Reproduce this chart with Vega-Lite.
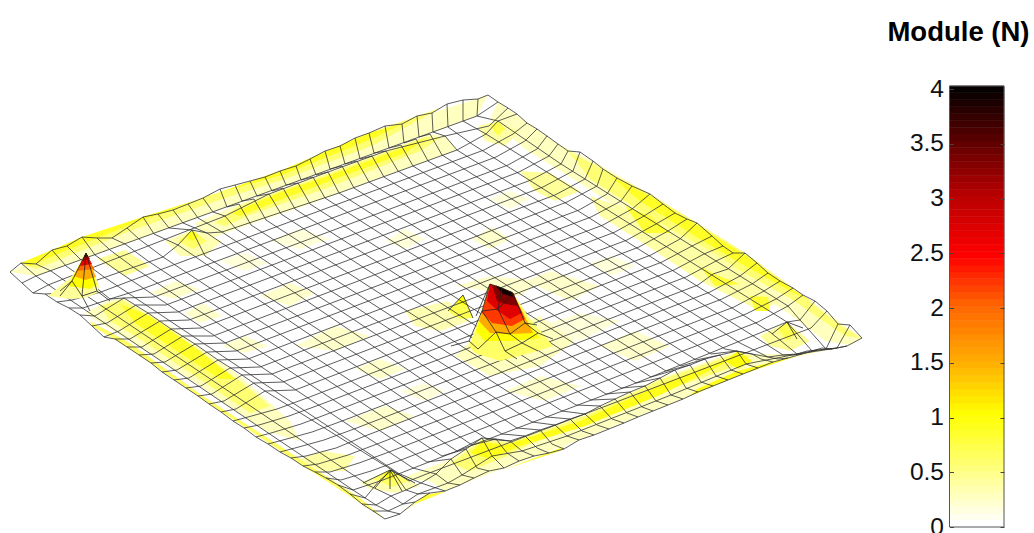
{"$schema":"https://vega.github.io/schema/vega-lite/v6.json","padding":{"left":0,"top":18,"right":30,"bottom":7},"bounds":"flush","spacing":69.5,"config":{"view":{"stroke":null}},
"datasets":{
"fills":[
{"p":1,"m":0.25,"x":10,"y":271},{"p":1,"m":0.25,"x":52,"y":249},{"p":1,"m":0.25,"x":82,"y":236},{"p":1,"m":0.25,"x":143,"y":216},{"p":1,"m":0.25,"x":203,"y":197},{"p":1,"m":0.25,"x":280,"y":170},{"p":1,"m":0.25,"x":369,"y":132},{"p":1,"m":0.25,"x":432,"y":112},{"p":1,"m":0.25,"x":488,"y":94},{"p":1,"m":0.25,"x":477,"y":115},{"p":1,"m":0.25,"x":374,"y":152},{"p":1,"m":0.25,"x":227,"y":206},{"p":1,"m":0.25,"x":125,"y":243},{"p":1,"m":0.25,"x":36,"y":275},
{"p":2,"m":0.55,"x":21,"y":262},{"p":2,"m":0.55,"x":52,"y":249},{"p":2,"m":0.55,"x":82,"y":236},{"p":2,"m":0.55,"x":143,"y":216},{"p":2,"m":0.55,"x":203,"y":197},{"p":2,"m":0.55,"x":280,"y":170},{"p":2,"m":0.55,"x":369,"y":132},{"p":2,"m":0.55,"x":440,"y":107},{"p":2,"m":0.55,"x":374,"y":144},{"p":2,"m":0.55,"x":285,"y":178},{"p":2,"m":0.55,"x":222,"y":198},{"p":2,"m":0.55,"x":130,"y":230},{"p":2,"m":0.55,"x":36,"y":268},
{"p":3,"m":0.85,"x":21,"y":262},{"p":3,"m":0.85,"x":52,"y":249},{"p":3,"m":0.85,"x":82,"y":236},{"p":3,"m":0.85,"x":143,"y":216},{"p":3,"m":0.85,"x":203,"y":197},{"p":3,"m":0.85,"x":280,"y":170},{"p":3,"m":0.85,"x":369,"y":132},{"p":3,"m":0.85,"x":402,"y":123},{"p":3,"m":0.85,"x":372,"y":138},{"p":3,"m":0.85,"x":282,"y":174},{"p":3,"m":0.85,"x":210,"y":194},{"p":3,"m":0.85,"x":135,"y":222},{"p":3,"m":0.85,"x":60,"y":252},{"p":3,"m":0.85,"x":30,"y":265},
{"p":4,"m":0.25,"x":195,"y":222},{"p":4,"m":0.25,"x":239,"y":203},{"p":4,"m":0.25,"x":328,"y":171},{"p":4,"m":0.25,"x":430,"y":133},{"p":4,"m":0.25,"x":445,"y":135},{"p":4,"m":0.25,"x":457,"y":149},{"p":4,"m":0.25,"x":398,"y":170},{"p":4,"m":0.25,"x":310,"y":203},{"p":4,"m":0.25,"x":236,"y":228},{"p":4,"m":0.25,"x":205,"y":240},
{"p":5,"m":0.55,"x":215,"y":222},{"p":5,"m":0.55,"x":239,"y":205},{"p":5,"m":0.55,"x":328,"y":173},{"p":5,"m":0.55,"x":425,"y":136},{"p":5,"m":0.55,"x":440,"y":137},{"p":5,"m":0.55,"x":420,"y":150},{"p":5,"m":0.55,"x":330,"y":186},{"p":5,"m":0.55,"x":250,"y":214},{"p":5,"m":0.55,"x":225,"y":225},
{"p":6,"m":0.85,"x":232,"y":212},{"p":6,"m":0.85,"x":283,"y":190},{"p":6,"m":0.85,"x":328,"y":175},{"p":6,"m":0.85,"x":400,"y":148},{"p":6,"m":0.85,"x":425,"y":138},{"p":6,"m":0.85,"x":405,"y":152},{"p":6,"m":0.85,"x":330,"y":180},{"p":6,"m":0.85,"x":285,"y":197},{"p":6,"m":0.85,"x":240,"y":215},
{"p":7,"m":0.3,"x":165,"y":240},{"p":7,"m":0.3,"x":192,"y":229},{"p":7,"m":0.3,"x":222,"y":240},{"p":7,"m":0.3,"x":205,"y":255},{"p":7,"m":0.3,"x":180,"y":255},
{"p":8,"m":0.6,"x":178,"y":240},{"p":8,"m":0.6,"x":192,"y":229},{"p":8,"m":0.6,"x":207,"y":240},{"p":8,"m":0.6,"x":193,"y":248},
{"p":9,"m":0.9,"x":186,"y":236},{"p":9,"m":0.9,"x":192,"y":229},{"p":9,"m":0.9,"x":199,"y":235},{"p":9,"m":0.9,"x":192,"y":240},
{"p":10,"m":0.25,"x":85,"y":312},{"p":10,"m":0.25,"x":107,"y":300},{"p":10,"m":0.25,"x":123,"y":297},{"p":10,"m":0.25,"x":170,"y":325},{"p":10,"m":0.25,"x":240,"y":375},{"p":10,"m":0.25,"x":290,"y":420},{"p":10,"m":0.25,"x":300,"y":440},{"p":10,"m":0.25,"x":265,"y":430},{"p":10,"m":0.25,"x":200,"y":385},{"p":10,"m":0.25,"x":130,"y":340},{"p":10,"m":0.25,"x":105,"y":325},
{"p":11,"m":0.55,"x":100,"y":305},{"p":11,"m":0.55,"x":123,"y":299},{"p":11,"m":0.55,"x":165,"y":325},{"p":11,"m":0.55,"x":240,"y":380},{"p":11,"m":0.55,"x":270,"y":405},{"p":11,"m":0.55,"x":250,"y":412},{"p":11,"m":0.55,"x":195,"y":375},{"p":11,"m":0.55,"x":135,"y":335},{"p":11,"m":0.55,"x":110,"y":320},
{"p":12,"m":0.85,"x":120,"y":303},{"p":12,"m":0.85,"x":150,"y":315},{"p":12,"m":0.85,"x":200,"y":350},{"p":12,"m":0.85,"x":235,"y":378},{"p":12,"m":0.85,"x":220,"y":378},{"p":12,"m":0.85,"x":180,"y":352},{"p":12,"m":0.85,"x":135,"y":322},
{"p":13,"m":0.6,"x":90,"y":320},{"p":13,"m":0.6,"x":130,"y":342},{"p":13,"m":0.6,"x":200,"y":393},{"p":13,"m":0.6,"x":300,"y":458},{"p":13,"m":0.6,"x":360,"y":497},{"p":13,"m":0.6,"x":385,"y":518},{"p":13,"m":0.6,"x":300,"y":463},{"p":13,"m":0.6,"x":205,"y":400},{"p":13,"m":0.6,"x":130,"y":348},{"p":13,"m":0.6,"x":92,"y":325},
{"p":14,"m":0.4,"x":97,"y":258},{"p":14,"m":0.4,"x":125,"y":249},{"p":14,"m":0.4,"x":150,"y":265},{"p":14,"m":0.4,"x":125,"y":275},
{"p":15,"m":0.25,"x":400,"y":478},{"p":15,"m":0.25,"x":451,"y":458},{"p":15,"m":0.25,"x":482,"y":437},{"p":15,"m":0.25,"x":510,"y":440},{"p":15,"m":0.25,"x":585,"y":413},{"p":15,"m":0.25,"x":660,"y":377},{"p":15,"m":0.25,"x":737,"y":350},{"p":15,"m":0.25,"x":752,"y":353},{"p":15,"m":0.25,"x":797,"y":353},{"p":15,"m":0.25,"x":826,"y":348},{"p":15,"m":0.25,"x":847,"y":345},{"p":15,"m":0.25,"x":773,"y":361},{"p":15,"m":0.25,"x":683,"y":398},{"p":15,"m":0.25,"x":579,"y":439},{"p":15,"m":0.25,"x":504,"y":467},{"p":15,"m":0.25,"x":445,"y":490},{"p":15,"m":0.25,"x":430,"y":480},
{"p":16,"m":0.55,"x":451,"y":462},{"p":16,"m":0.55,"x":482,"y":439},{"p":16,"m":0.55,"x":510,"y":442},{"p":16,"m":0.55,"x":585,"y":415},{"p":16,"m":0.55,"x":660,"y":379},{"p":16,"m":0.55,"x":737,"y":352},{"p":16,"m":0.55,"x":752,"y":355},{"p":16,"m":0.55,"x":730,"y":367},{"p":16,"m":0.55,"x":670,"y":388},{"p":16,"m":0.55,"x":600,"y":418},{"p":16,"m":0.55,"x":530,"y":443},{"p":16,"m":0.55,"x":500,"y":458},{"p":16,"m":0.55,"x":470,"y":470},
{"p":17,"m":0.9,"x":470,"y":452},{"p":17,"m":0.9,"x":482,"y":441},{"p":17,"m":0.9,"x":505,"y":444},{"p":17,"m":0.9,"x":580,"y":420},{"p":17,"m":0.9,"x":660,"y":384},{"p":17,"m":0.9,"x":735,"y":355},{"p":17,"m":0.9,"x":725,"y":362},{"p":17,"m":0.9,"x":660,"y":394},{"p":17,"m":0.9,"x":585,"y":425},{"p":17,"m":0.9,"x":520,"y":445},{"p":17,"m":0.9,"x":490,"y":458},
{"p":18,"m":0.8,"x":405,"y":510},{"p":18,"m":0.8,"x":425,"y":494},{"p":18,"m":0.8,"x":447,"y":490},{"p":18,"m":0.8,"x":415,"y":503},
{"p":19,"m":0.9,"x":690,"y":395},{"p":19,"m":0.9,"x":737,"y":375},{"p":19,"m":0.9,"x":797,"y":355},{"p":19,"m":0.9,"x":737,"y":370},{"p":19,"m":0.9,"x":697,"y":388},
{"p":20,"m":0.7,"x":500,"y":470},{"p":20,"m":0.7,"x":565,"y":445},{"p":20,"m":0.7,"x":560,"y":450},
{"p":21,"m":0.25,"x":498,"y":101},{"p":21,"m":0.25,"x":558,"y":143},{"p":21,"m":0.25,"x":593,"y":160},{"p":21,"m":0.25,"x":650,"y":193},{"p":21,"m":0.25,"x":697,"y":222},{"p":21,"m":0.25,"x":745,"y":252},{"p":21,"m":0.25,"x":793,"y":287},{"p":21,"m":0.25,"x":862,"y":337},{"p":21,"m":0.25,"x":850,"y":344},{"p":21,"m":0.25,"x":825,"y":340},{"p":21,"m":0.25,"x":788,"y":312},{"p":21,"m":0.25,"x":740,"y":283},{"p":21,"m":0.25,"x":692,"y":253},{"p":21,"m":0.25,"x":632,"y":215},{"p":21,"m":0.25,"x":573,"y":178},{"p":21,"m":0.25,"x":525,"y":148},{"p":21,"m":0.25,"x":490,"y":118},
{"p":22,"m":0.55,"x":568,"y":150},{"p":22,"m":0.55,"x":650,"y":193},{"p":22,"m":0.55,"x":697,"y":222},{"p":22,"m":0.55,"x":745,"y":252},{"p":22,"m":0.55,"x":793,"y":287},{"p":22,"m":0.55,"x":838,"y":323},{"p":22,"m":0.55,"x":862,"y":337},{"p":22,"m":0.55,"x":845,"y":335},{"p":22,"m":0.55,"x":790,"y":297},{"p":22,"m":0.55,"x":740,"y":270},{"p":22,"m":0.55,"x":690,"y":240},{"p":22,"m":0.55,"x":640,"y":210},{"p":22,"m":0.55,"x":590,"y":178},
{"p":23,"m":0.85,"x":610,"y":175},{"p":23,"m":0.85,"x":650,"y":195},{"p":23,"m":0.85,"x":697,"y":224},{"p":23,"m":0.85,"x":745,"y":254},{"p":23,"m":0.85,"x":793,"y":289},{"p":23,"m":0.85,"x":815,"y":302},{"p":23,"m":0.85,"x":790,"y":290},{"p":23,"m":0.85,"x":740,"y":262},{"p":23,"m":0.85,"x":690,"y":232},{"p":23,"m":0.85,"x":640,"y":200},
{"p":24,"m":0.35,"x":590,"y":195},{"p":24,"m":0.35,"x":647,"y":215},{"p":24,"m":0.35,"x":720,"y":255},{"p":24,"m":0.35,"x":780,"y":300},{"p":24,"m":0.35,"x":760,"y":310},{"p":24,"m":0.35,"x":700,"y":280},{"p":24,"m":0.35,"x":640,"y":240},{"p":24,"m":0.35,"x":600,"y":215},
{"p":25,"m":0.8,"x":625,"y":205},{"p":25,"m":0.8,"x":650,"y":215},{"p":25,"m":0.8,"x":670,"y":232},{"p":25,"m":0.8,"x":645,"y":232},
{"p":26,"m":0.8,"x":700,"y":265},{"p":26,"m":0.8,"x":714,"y":273},{"p":26,"m":0.8,"x":740,"y":283},{"p":26,"m":0.8,"x":715,"y":285},
{"p":27,"m":0.8,"x":750,"y":295},{"p":27,"m":0.8,"x":768,"y":296},{"p":27,"m":0.8,"x":770,"y":310},{"p":27,"m":0.8,"x":755,"y":310},
{"p":28,"m":0.35,"x":478,"y":125},{"p":28,"m":0.35,"x":498,"y":120},{"p":28,"m":0.35,"x":520,"y":130},{"p":28,"m":0.35,"x":505,"y":145},{"p":28,"m":0.35,"x":485,"y":140},
{"p":29,"m":0.7,"x":490,"y":125},{"p":29,"m":0.7,"x":498,"y":120},{"p":29,"m":0.7,"x":505,"y":128},{"p":29,"m":0.7,"x":498,"y":135},
{"p":30,"m":0.4,"x":520,"y":170},{"p":30,"m":0.4,"x":550,"y":172},{"p":30,"m":0.4,"x":580,"y":190},{"p":30,"m":0.4,"x":555,"y":200},{"p":30,"m":0.4,"x":535,"y":190},
{"p":31,"m":0.4,"x":760,"y":335},{"p":31,"m":0.4,"x":787,"y":321},{"p":31,"m":0.4,"x":810,"y":340},{"p":31,"m":0.4,"x":790,"y":350},{"p":31,"m":0.4,"x":770,"y":345},
{"p":32,"m":0.7,"x":778,"y":328},{"p":32,"m":0.7,"x":787,"y":321},{"p":32,"m":0.7,"x":797,"y":332},{"p":32,"m":0.7,"x":787,"y":340},
{"p":33,"m":0.95,"x":725,"y":360},{"p":33,"m":0.95,"x":738,"y":350},{"p":33,"m":0.95,"x":752,"y":360},{"p":33,"m":0.95,"x":738,"y":368},
{"p":34,"m":0.3,"x":360,"y":482},{"p":34,"m":0.3,"x":390,"y":469},{"p":34,"m":0.3,"x":420,"y":485},{"p":34,"m":0.3,"x":395,"y":492},{"p":34,"m":0.3,"x":370,"y":488},
{"p":35,"m":0.6,"x":373,"y":478},{"p":35,"m":0.6,"x":390,"y":469},{"p":35,"m":0.6,"x":408,"y":480},{"p":35,"m":0.6,"x":392,"y":486},
{"p":36,"m":0.95,"x":383,"y":474},{"p":36,"m":0.95,"x":390,"y":469},{"p":36,"m":0.95,"x":397,"y":475},{"p":36,"m":0.95,"x":390,"y":479},
{"p":37,"m":0.35,"x":300,"y":458},{"p":37,"m":0.35,"x":322,"y":450},{"p":37,"m":0.35,"x":355,"y":455},{"p":37,"m":0.35,"x":345,"y":470},{"p":37,"m":0.35,"x":320,"y":470},
{"p":38,"m":0.2,"x":355,"y":368},{"p":38,"m":0.2,"x":380,"y":358},{"p":38,"m":0.2,"x":405,"y":368},{"p":38,"m":0.2,"x":380,"y":378},
{"p":39,"m":0.2,"x":260,"y":295},{"p":39,"m":0.2,"x":290,"y":282},{"p":39,"m":0.2,"x":315,"y":292},{"p":39,"m":0.2,"x":290,"y":305},
{"p":40,"m":0.2,"x":185,"y":312},{"p":40,"m":0.2,"x":203,"y":302},{"p":40,"m":0.2,"x":222,"y":315},{"p":40,"m":0.2,"x":200,"y":322},
{"p":41,"m":0.2,"x":150,"y":292},{"p":41,"m":0.2,"x":175,"y":280},{"p":41,"m":0.2,"x":200,"y":288},{"p":41,"m":0.2,"x":175,"y":298},
{"p":42,"m":0.15,"x":220,"y":260},{"p":42,"m":0.15,"x":245,"y":252},{"p":42,"m":0.15,"x":268,"y":262},{"p":42,"m":0.15,"x":245,"y":270},
{"p":43,"m":0.15,"x":270,"y":240},{"p":43,"m":0.15,"x":300,"y":228},{"p":43,"m":0.15,"x":330,"y":238},{"p":43,"m":0.15,"x":300,"y":248},
{"p":44,"m":0.2,"x":295,"y":345},{"p":44,"m":0.2,"x":335,"y":325},{"p":44,"m":0.2,"x":370,"y":335},{"p":44,"m":0.2,"x":335,"y":350},
{"p":45,"m":0.2,"x":222,"y":345},{"p":45,"m":0.2,"x":245,"y":335},{"p":45,"m":0.2,"x":268,"y":345},{"p":45,"m":0.2,"x":245,"y":352},
{"p":46,"m":0.2,"x":472,"y":238},{"p":46,"m":0.2,"x":492,"y":226},{"p":46,"m":0.2,"x":510,"y":238},{"p":46,"m":0.2,"x":490,"y":248},
{"p":47,"m":0.15,"x":385,"y":240},{"p":47,"m":0.15,"x":405,"y":228},{"p":47,"m":0.15,"x":425,"y":238},{"p":47,"m":0.15,"x":405,"y":248},
{"p":48,"m":0.15,"x":490,"y":198},{"p":48,"m":0.15,"x":510,"y":190},{"p":48,"m":0.15,"x":530,"y":198},{"p":48,"m":0.15,"x":510,"y":208},
{"p":49,"m":0.2,"x":525,"y":280},{"p":49,"m":0.2,"x":550,"y":270},{"p":49,"m":0.2,"x":600,"y":285},{"p":49,"m":0.2,"x":570,"y":300},
{"p":50,"m":0.15,"x":540,"y":325},{"p":50,"m":0.15,"x":580,"y":312},{"p":50,"m":0.15,"x":620,"y":320},{"p":50,"m":0.15,"x":580,"y":340},
{"p":51,"m":0.15,"x":590,"y":262},{"p":51,"m":0.15,"x":612,"y":255},{"p":51,"m":0.15,"x":635,"y":265},{"p":51,"m":0.15,"x":612,"y":275},
{"p":52,"m":0.2,"x":600,"y":345},{"p":52,"m":0.2,"x":635,"y":330},{"p":52,"m":0.2,"x":670,"y":345},{"p":52,"m":0.2,"x":635,"y":360},
{"p":53,"m":0.2,"x":505,"y":390},{"p":53,"m":0.2,"x":540,"y":375},{"p":53,"m":0.2,"x":580,"y":385},{"p":53,"m":0.2,"x":545,"y":400},
{"p":54,"m":0.2,"x":345,"y":420},{"p":54,"m":0.2,"x":385,"y":405},{"p":54,"m":0.2,"x":415,"y":415},{"p":54,"m":0.2,"x":380,"y":430},
{"p":55,"m":0.15,"x":400,"y":390},{"p":55,"m":0.15,"x":425,"y":382},{"p":55,"m":0.15,"x":445,"y":390},{"p":55,"m":0.15,"x":425,"y":400},
{"p":56,"m":0.3,"x":405,"y":310},{"p":56,"m":0.3,"x":448,"y":300},{"p":56,"m":0.3,"x":470,"y":320},{"p":56,"m":0.3,"x":440,"y":330},{"p":56,"m":0.3,"x":415,"y":325},
{"p":57,"m":0.7,"x":448,"y":310},{"p":57,"m":0.7,"x":463,"y":294},{"p":57,"m":0.7,"x":473,"y":317},{"p":57,"m":0.7,"x":460,"y":318},
{"p":58,"m":1,"x":456,"y":302},{"p":58,"m":1,"x":463,"y":294},{"p":58,"m":1,"x":468,"y":305},
{"p":59,"m":0.25,"x":455,"y":355},{"p":59,"m":0.25,"x":470,"y":340},{"p":59,"m":0.25,"x":540,"y":315},{"p":59,"m":0.25,"x":575,"y":340},{"p":59,"m":0.25,"x":540,"y":365},{"p":59,"m":0.25,"x":490,"y":375},
{"p":60,"m":0.2,"x":455,"y":285},{"p":60,"m":0.2,"x":490,"y":275},{"p":60,"m":0.2,"x":540,"y":280},{"p":60,"m":0.2,"x":520,"y":295}
],
"peakfills":[
{"p":1,"m":0.6,"x":469,"y":345},{"p":1,"m":0.6,"x":482,"y":310},{"p":1,"m":0.6,"x":490,"y":283},{"p":1,"m":0.6,"x":513,"y":292},{"p":1,"m":0.6,"x":530,"y":318},{"p":1,"m":0.6,"x":553,"y":345},{"p":1,"m":0.6,"x":530,"y":352},{"p":1,"m":0.6,"x":500,"y":360},{"p":1,"m":0.6,"x":475,"y":352},
{"p":2,"m":1,"x":476,"y":330},{"p":2,"m":1,"x":482,"y":310},{"p":2,"m":1,"x":490,"y":283},{"p":2,"m":1,"x":513,"y":292},{"p":2,"m":1,"x":530,"y":325},{"p":2,"m":1,"x":540,"y":337},{"p":2,"m":1,"x":510,"y":340},{"p":2,"m":1,"x":485,"y":340},
{"p":3,"m":1.5,"x":479,"y":320},{"p":3,"m":1.5,"x":482,"y":310},{"p":3,"m":1.5,"x":490,"y":283},{"p":3,"m":1.5,"x":513,"y":292},{"p":3,"m":1.5,"x":527,"y":320},{"p":3,"m":1.5,"x":533,"y":332},{"p":3,"m":1.5,"x":510,"y":333},{"p":3,"m":1.5,"x":490,"y":332},
{"p":4,"m":2.2,"x":482,"y":312},{"p":4,"m":2.2,"x":488,"y":290},{"p":4,"m":2.2,"x":513,"y":292},{"p":4,"m":2.2,"x":525,"y":318},{"p":4,"m":2.2,"x":512,"y":325},{"p":4,"m":2.2,"x":492,"y":322},
{"p":5,"m":2.7,"x":490,"y":283},{"p":5,"m":2.7,"x":513,"y":292},{"p":5,"m":2.7,"x":522,"y":312},{"p":5,"m":2.7,"x":510,"y":318},{"p":5,"m":2.7,"x":498,"y":310},{"p":5,"m":2.7,"x":487,"y":300},
{"p":6,"m":3.3,"x":492,"y":284},{"p":6,"m":3.3,"x":513,"y":292},{"p":6,"m":3.3,"x":518,"y":305},{"p":6,"m":3.3,"x":505,"y":303},{"p":6,"m":3.3,"x":497,"y":300},
{"p":7,"m":3.9,"x":495,"y":284},{"p":7,"m":3.9,"x":512,"y":291},{"p":7,"m":3.9,"x":513,"y":296},{"p":7,"m":3.9,"x":503,"y":293},
{"p":8,"m":0.4,"x":48,"y":295},{"p":8,"m":0.4,"x":72,"y":275},{"p":8,"m":0.4,"x":86,"y":252},{"p":8,"m":0.4,"x":99,"y":285},{"p":8,"m":0.4,"x":97,"y":292},{"p":8,"m":0.4,"x":85,"y":297},{"p":8,"m":0.4,"x":70,"y":298},
{"p":9,"m":1,"x":68,"y":285},{"p":9,"m":1,"x":73,"y":275},{"p":9,"m":1,"x":86,"y":252},{"p":9,"m":1,"x":97,"y":283},{"p":9,"m":1,"x":90,"y":288},
{"p":10,"m":1.5,"x":74,"y":275},{"p":10,"m":1.5,"x":86,"y":252},{"p":10,"m":1.5,"x":96,"y":276},{"p":10,"m":1.5,"x":85,"y":279},
{"p":11,"m":2,"x":77,"y":270},{"p":11,"m":2,"x":86,"y":252},{"p":11,"m":2,"x":94,"y":268},
{"p":12,"m":2.6,"x":80,"y":265},{"p":12,"m":2.6,"x":86,"y":252},{"p":12,"m":2.6,"x":92,"y":263},
{"p":13,"m":3.2,"x":82,"y":260},{"p":13,"m":3.2,"x":86,"y":252},{"p":13,"m":3.2,"x":90,"y":258},
{"p":14,"m":3.9,"x":84,"y":256},{"p":14,"m":3.9,"x":86,"y":252},{"p":14,"m":3.9,"x":88,"y":255}
],
"peaklines":[
{"l":1,"x":451,"y":345},{"l":1,"x":469,"y":340},{"l":1,"x":482,"y":310},{"l":1,"x":498,"y":308},{"l":1,"x":513,"y":292},
{"l":2,"x":490,"y":283},{"l":2,"x":502,"y":287},{"l":2,"x":513,"y":292},{"l":2,"x":525,"y":322},{"l":2,"x":538,"y":332},{"l":2,"x":553,"y":338},
{"l":3,"x":482,"y":310},{"l":3,"x":490,"y":283},{"l":3,"x":476,"y":315},
{"l":4,"x":498,"y":308},{"l":4,"x":502,"y":287},
{"l":5,"x":482,"y":310},{"l":5,"x":496,"y":331},{"l":5,"x":505,"y":350},{"l":5,"x":517,"y":358},
{"l":6,"x":498,"y":308},{"l":6,"x":510,"y":333},{"l":6,"x":522,"y":342},{"l":6,"x":538,"y":350},
{"l":7,"x":496,"y":331},{"l":7,"x":510,"y":333},{"l":7,"x":525,"y":322},{"l":7,"x":537,"y":324},
{"l":8,"x":469,"y":340},{"l":8,"x":478,"y":348},{"l":8,"x":496,"y":331},
{"l":9,"x":505,"y":350},{"l":9,"x":522,"y":342},{"l":9,"x":538,"y":332},
{"l":10,"x":86,"y":252},{"l":10,"x":72,"y":280},{"l":10,"x":60,"y":290},
{"l":11,"x":86,"y":252},{"l":11,"x":82,"y":295},{"l":11,"x":90,"y":310},
{"l":12,"x":86,"y":252},{"l":12,"x":97,"y":290},{"l":12,"x":110,"y":300},
{"l":13,"x":60,"y":295},{"l":13,"x":72,"y":280},{"l":13,"x":82,"y":295},{"l":13,"x":97,"y":290},
{"l":14,"x":448,"y":310},{"l":14,"x":463,"y":294},{"l":14,"x":473,"y":317},
{"l":15,"x":390,"y":469},{"l":15,"x":363,"y":482},
{"l":16,"x":390,"y":469},{"l":16,"x":375,"y":487},
{"l":17,"x":390,"y":469},{"l":17,"x":390,"y":488},
{"l":18,"x":390,"y":469},{"l":18,"x":402,"y":490},
{"l":19,"x":390,"y":469},{"l":19,"x":415,"y":482},
{"l":20,"x":787,"y":321},{"l":20,"x":772,"y":333},
{"l":21,"x":787,"y":321},{"l":21,"x":797,"y":338},
{"l":22,"x":787,"y":321},{"l":22,"x":803,"y":327}
],
"bar":[
{"a":0,"b":0.063},{"a":0.063,"b":0.126},{"a":0.126,"b":0.189},{"a":0.189,"b":0.252},{"a":0.252,"b":0.315},{"a":0.315,"b":0.378},{"a":0.378,"b":0.441},{"a":0.441,"b":0.504},{"a":0.504,"b":0.567},{"a":0.567,"b":0.63},{"a":0.63,"b":0.693},{"a":0.693,"b":0.756},{"a":0.756,"b":0.819},{"a":0.819,"b":0.882},{"a":0.882,"b":0.945},{"a":0.945,"b":1.008},
{"a":1.008,"b":1.071},{"a":1.071,"b":1.134},{"a":1.134,"b":1.197},{"a":1.197,"b":1.26},{"a":1.26,"b":1.323},{"a":1.323,"b":1.386},{"a":1.386,"b":1.449},{"a":1.449,"b":1.512},{"a":1.512,"b":1.575},{"a":1.575,"b":1.638},{"a":1.638,"b":1.701},{"a":1.701,"b":1.764},{"a":1.764,"b":1.827},{"a":1.827,"b":1.89},{"a":1.89,"b":1.953},{"a":1.953,"b":2.016},
{"a":2.016,"b":2.079},{"a":2.079,"b":2.142},{"a":2.142,"b":2.205},{"a":2.205,"b":2.268},{"a":2.268,"b":2.331},{"a":2.331,"b":2.394},{"a":2.394,"b":2.457},{"a":2.457,"b":2.52},{"a":2.52,"b":2.583},{"a":2.583,"b":2.646},{"a":2.646,"b":2.709},{"a":2.709,"b":2.772},{"a":2.772,"b":2.835},{"a":2.835,"b":2.898},{"a":2.898,"b":2.961},{"a":2.961,"b":3.024},
{"a":3.024,"b":3.087},{"a":3.087,"b":3.15},{"a":3.15,"b":3.213},{"a":3.213,"b":3.276},{"a":3.276,"b":3.339},{"a":3.339,"b":3.402},{"a":3.402,"b":3.465},{"a":3.465,"b":3.528},{"a":3.528,"b":3.591},{"a":3.591,"b":3.654},{"a":3.654,"b":3.717},{"a":3.717,"b":3.78},{"a":3.78,"b":3.843},{"a":3.843,"b":3.906},{"a":3.906,"b":3.969},{"a":3.969,"b":4.03}
],
"frame":[{"a":0,"b":4.03}],
"mesh":[
{"l":0,"x":10,"y":271},{"l":0,"x":22,"y":282},{"l":0,"x":33,"y":292},{"l":0,"x":45,"y":293},{"l":0,"x":57,"y":301},{"l":0,"x":69,"y":307},{"l":0,"x":80,"y":314},{"l":0,"x":92,"y":325},{"l":0,"x":104,"y":336},{"l":0,"x":115,"y":338},{"l":0,"x":127,"y":346},{"l":0,"x":139,"y":354},{"l":0,"x":151,"y":362},{"l":0,"x":162,"y":371},{"l":0,"x":174,"y":379},{"l":0,"x":186,"y":387},{"l":0,"x":198,"y":395},{"l":0,"x":209,"y":403},{"l":0,"x":221,"y":411},{"l":0,"x":233,"y":420},{"l":0,"x":244,"y":427},{"l":0,"x":256,"y":436},{"l":0,"x":268,"y":443},{"l":0,"x":280,"y":451},{"l":0,"x":291,"y":457},{"l":0,"x":303,"y":465},{"l":0,"x":315,"y":471},{"l":0,"x":326,"y":477},{"l":0,"x":338,"y":484},{"l":0,"x":350,"y":493},{"l":0,"x":362,"y":503},{"l":0,"x":373,"y":510},{"l":0,"x":385,"y":518},
{"l":1,"x":21,"y":262},{"l":1,"x":36,"y":275},{"l":1,"x":60,"y":292},{"l":1,"x":353,"y":489},{"l":1,"x":376,"y":504},{"l":1,"x":388,"y":510},{"l":1,"x":400,"y":513},
{"l":2,"x":36,"y":263},{"l":2,"x":51,"y":270},{"l":2,"x":75,"y":287},{"l":2,"x":368,"y":484},{"l":2,"x":391,"y":495},{"l":2,"x":403,"y":503},{"l":2,"x":415,"y":501},
{"l":3,"x":52,"y":249},{"l":3,"x":66,"y":265},{"l":3,"x":89,"y":281},{"l":3,"x":110,"y":298},{"l":3,"x":124,"y":297},{"l":3,"x":148,"y":312},{"l":3,"x":171,"y":328},{"l":3,"x":195,"y":343},{"l":3,"x":218,"y":359},{"l":3,"x":242,"y":374},{"l":3,"x":265,"y":390},{"l":3,"x":392,"y":469},{"l":3,"x":406,"y":489},{"l":3,"x":418,"y":493},{"l":3,"x":430,"y":492},
{"l":4,"x":67,"y":245},{"l":4,"x":81,"y":259},{"l":4,"x":104,"y":276},{"l":4,"x":398,"y":472},{"l":4,"x":421,"y":482},{"l":4,"x":433,"y":486},{"l":4,"x":445,"y":490},
{"l":5,"x":82,"y":236},{"l":5,"x":95,"y":254},{"l":5,"x":119,"y":271},{"l":5,"x":413,"y":467},{"l":5,"x":436,"y":473},{"l":5,"x":448,"y":482},{"l":5,"x":460,"y":484},
{"l":6,"x":97,"y":237},{"l":6,"x":110,"y":249},{"l":6,"x":133,"y":266},{"l":6,"x":427,"y":461},{"l":6,"x":451,"y":458},{"l":6,"x":462,"y":474},{"l":6,"x":474,"y":477},
{"l":7,"x":112,"y":237},{"l":7,"x":125,"y":243},{"l":7,"x":148,"y":260},{"l":7,"x":442,"y":455},{"l":7,"x":466,"y":448},{"l":7,"x":477,"y":467},{"l":7,"x":489,"y":470},
{"l":8,"x":127,"y":227},{"l":8,"x":139,"y":238},{"l":8,"x":163,"y":256},{"l":8,"x":457,"y":450},{"l":8,"x":482,"y":437},{"l":8,"x":492,"y":455},{"l":8,"x":504,"y":467},
{"l":9,"x":143,"y":216},{"l":9,"x":154,"y":233},{"l":9,"x":178,"y":244},{"l":9,"x":472,"y":444},{"l":9,"x":496,"y":438},{"l":9,"x":507,"y":452},{"l":9,"x":519,"y":460},
{"l":10,"x":158,"y":213},{"l":10,"x":169,"y":227},{"l":10,"x":192,"y":229},{"l":10,"x":205,"y":255},{"l":10,"x":487,"y":438},{"l":10,"x":510,"y":440},{"l":10,"x":522,"y":450},{"l":10,"x":534,"y":455},
{"l":11,"x":173,"y":209},{"l":11,"x":183,"y":222},{"l":11,"x":207,"y":232},{"l":11,"x":502,"y":433},{"l":11,"x":525,"y":435},{"l":11,"x":537,"y":447},{"l":11,"x":549,"y":452},
{"l":12,"x":188,"y":203},{"l":12,"x":198,"y":217},{"l":12,"x":222,"y":231},{"l":12,"x":517,"y":427},{"l":12,"x":540,"y":429},{"l":12,"x":552,"y":443},{"l":12,"x":564,"y":448},
{"l":13,"x":203,"y":197},{"l":13,"x":213,"y":211},{"l":13,"x":225,"y":215},{"l":13,"x":236,"y":228},{"l":13,"x":532,"y":421},{"l":13,"x":555,"y":424},{"l":13,"x":567,"y":435},{"l":13,"x":579,"y":439},
{"l":14,"x":220,"y":188},{"l":14,"x":227,"y":206},{"l":14,"x":239,"y":203},{"l":14,"x":251,"y":224},{"l":14,"x":547,"y":416},{"l":14,"x":570,"y":418},{"l":14,"x":582,"y":430},{"l":14,"x":594,"y":434},
{"l":15,"x":235,"y":184},{"l":15,"x":242,"y":200},{"l":15,"x":254,"y":198},{"l":15,"x":266,"y":219},{"l":15,"x":562,"y":410},{"l":15,"x":585,"y":413},{"l":15,"x":597,"y":424},{"l":15,"x":609,"y":428},
{"l":16,"x":250,"y":180},{"l":16,"x":257,"y":195},{"l":16,"x":269,"y":193},{"l":16,"x":281,"y":213},{"l":16,"x":576,"y":404},{"l":16,"x":600,"y":405},{"l":16,"x":612,"y":418},{"l":16,"x":624,"y":422},
{"l":17,"x":265,"y":176},{"l":17,"x":272,"y":190},{"l":17,"x":283,"y":187},{"l":17,"x":295,"y":208},{"l":17,"x":591,"y":399},{"l":17,"x":615,"y":398},{"l":17,"x":627,"y":412},{"l":17,"x":638,"y":416},
{"l":18,"x":280,"y":170},{"l":18,"x":286,"y":184},{"l":18,"x":298,"y":182},{"l":18,"x":310,"y":203},{"l":18,"x":606,"y":393},{"l":18,"x":630,"y":391},{"l":18,"x":642,"y":406},{"l":18,"x":653,"y":410},
{"l":19,"x":296,"y":165},{"l":19,"x":301,"y":179},{"l":19,"x":313,"y":176},{"l":19,"x":325,"y":197},{"l":19,"x":621,"y":387},{"l":19,"x":645,"y":385},{"l":19,"x":656,"y":400},{"l":19,"x":668,"y":404},
{"l":20,"x":310,"y":158},{"l":20,"x":316,"y":174},{"l":20,"x":328,"y":171},{"l":20,"x":339,"y":192},{"l":20,"x":636,"y":382},{"l":20,"x":660,"y":377},{"l":20,"x":671,"y":394},{"l":20,"x":683,"y":398},
{"l":21,"x":325,"y":150},{"l":21,"x":330,"y":168},{"l":21,"x":342,"y":165},{"l":21,"x":354,"y":187},{"l":21,"x":651,"y":376},{"l":21,"x":675,"y":369},{"l":21,"x":686,"y":387},{"l":21,"x":698,"y":391},
{"l":22,"x":340,"y":145},{"l":22,"x":345,"y":163},{"l":22,"x":357,"y":160},{"l":22,"x":369,"y":181},{"l":22,"x":666,"y":370},{"l":22,"x":690,"y":364},{"l":22,"x":701,"y":381},{"l":22,"x":713,"y":385},
{"l":23,"x":355,"y":137},{"l":23,"x":360,"y":158},{"l":23,"x":372,"y":155},{"l":23,"x":384,"y":176},{"l":23,"x":681,"y":365},{"l":23,"x":705,"y":358},{"l":23,"x":716,"y":375},{"l":23,"x":728,"y":379},
{"l":24,"x":369,"y":132},{"l":24,"x":374,"y":152},{"l":24,"x":386,"y":150},{"l":24,"x":398,"y":170},{"l":24,"x":696,"y":359},{"l":24,"x":720,"y":354},{"l":24,"x":731,"y":369},{"l":24,"x":743,"y":373},
{"l":25,"x":385,"y":125},{"l":25,"x":389,"y":147},{"l":25,"x":401,"y":144},{"l":25,"x":413,"y":165},{"l":25,"x":711,"y":353},{"l":25,"x":737,"y":350},{"l":25,"x":746,"y":363},{"l":25,"x":758,"y":367},
{"l":26,"x":402,"y":123},{"l":26,"x":404,"y":142},{"l":26,"x":416,"y":138},{"l":26,"x":428,"y":160},{"l":26,"x":725,"y":348},{"l":26,"x":752,"y":353},{"l":26,"x":761,"y":358},{"l":26,"x":773,"y":361},
{"l":27,"x":417,"y":115},{"l":27,"x":419,"y":136},{"l":27,"x":430,"y":133},{"l":27,"x":442,"y":154},{"l":27,"x":740,"y":342},{"l":27,"x":768,"y":356},{"l":27,"x":778,"y":358},{"l":27,"x":788,"y":357},
{"l":28,"x":432,"y":112},{"l":28,"x":433,"y":131},{"l":28,"x":445,"y":135},{"l":28,"x":457,"y":149},{"l":28,"x":755,"y":336},{"l":28,"x":783,"y":354},{"l":28,"x":792,"y":354},{"l":28,"x":802,"y":353},
{"l":29,"x":447,"y":103},{"l":29,"x":448,"y":126},{"l":29,"x":472,"y":143},{"l":29,"x":770,"y":331},{"l":29,"x":797,"y":353},{"l":29,"x":807,"y":350},{"l":29,"x":817,"y":349},
{"l":30,"x":463,"y":99},{"l":30,"x":463,"y":120},{"l":30,"x":486,"y":133},{"l":30,"x":787,"y":321},{"l":30,"x":812,"y":350},{"l":30,"x":822,"y":347},{"l":30,"x":832,"y":348},
{"l":31,"x":478,"y":98},{"l":31,"x":477,"y":115},{"l":31,"x":498,"y":120},{"l":31,"x":561,"y":163},{"l":31,"x":692,"y":245},{"l":31,"x":788,"y":305},{"l":31,"x":800,"y":319},{"l":31,"x":826,"y":348},{"l":31,"x":837,"y":347},{"l":31,"x":847,"y":345},
{"l":32,"x":488,"y":94},{"l":32,"x":498,"y":101},{"l":32,"x":508,"y":107},{"l":32,"x":517,"y":113},{"l":32,"x":527,"y":122},{"l":32,"x":537,"y":128},{"l":32,"x":547,"y":135},{"l":32,"x":558,"y":143},{"l":32,"x":568,"y":150},{"l":32,"x":580,"y":151},{"l":32,"x":593,"y":160},{"l":32,"x":603,"y":168},{"l":32,"x":617,"y":177},{"l":32,"x":632,"y":185},{"l":32,"x":650,"y":193},{"l":32,"x":663,"y":203},{"l":32,"x":675,"y":212},{"l":32,"x":687,"y":218},{"l":32,"x":697,"y":222},{"l":32,"x":712,"y":235},{"l":32,"x":723,"y":245},{"l":32,"x":733,"y":252},{"l":32,"x":745,"y":252},{"l":32,"x":757,"y":262},{"l":32,"x":768,"y":272},{"l":32,"x":780,"y":280},{"l":32,"x":793,"y":287},{"l":32,"x":803,"y":294},{"l":32,"x":815,"y":300},{"l":32,"x":827,"y":310},{"l":32,"x":838,"y":323},{"l":32,"x":850,"y":324},{"l":32,"x":862,"y":337},
{"l":100,"x":10,"y":271},{"l":100,"x":21,"y":262},{"l":100,"x":36,"y":263},{"l":100,"x":52,"y":249},{"l":100,"x":67,"y":245},{"l":100,"x":82,"y":236},{"l":100,"x":97,"y":237},{"l":100,"x":112,"y":237},{"l":100,"x":127,"y":227},{"l":100,"x":143,"y":216},{"l":100,"x":158,"y":213},{"l":100,"x":173,"y":209},{"l":100,"x":188,"y":203},{"l":100,"x":203,"y":197},{"l":100,"x":220,"y":188},{"l":100,"x":235,"y":184},{"l":100,"x":250,"y":180},{"l":100,"x":265,"y":176},{"l":100,"x":280,"y":170},{"l":100,"x":296,"y":165},{"l":100,"x":310,"y":158},{"l":100,"x":325,"y":150},{"l":100,"x":340,"y":145},{"l":100,"x":355,"y":137},{"l":100,"x":369,"y":132},{"l":100,"x":385,"y":125},{"l":100,"x":402,"y":123},{"l":100,"x":417,"y":115},{"l":100,"x":432,"y":112},{"l":100,"x":447,"y":103},{"l":100,"x":463,"y":99},{"l":100,"x":478,"y":98},{"l":100,"x":488,"y":94},
{"l":101,"x":22,"y":282},{"l":101,"x":36,"y":275},{"l":101,"x":477,"y":115},{"l":101,"x":498,"y":101},
{"l":102,"x":33,"y":292},{"l":102,"x":48,"y":284},{"l":102,"x":225,"y":215},{"l":102,"x":269,"y":193},{"l":102,"x":328,"y":171},{"l":102,"x":386,"y":150},{"l":102,"x":445,"y":135},{"l":102,"x":489,"y":125},{"l":102,"x":508,"y":107},
{"l":103,"x":45,"y":293},{"l":103,"x":60,"y":292},{"l":103,"x":163,"y":256},{"l":103,"x":178,"y":244},{"l":103,"x":192,"y":229},{"l":103,"x":207,"y":232},{"l":103,"x":222,"y":231},{"l":103,"x":339,"y":192},{"l":103,"x":457,"y":149},{"l":103,"x":486,"y":133},{"l":103,"x":498,"y":120},{"l":103,"x":517,"y":113},
{"l":104,"x":57,"y":301},{"l":104,"x":72,"y":299},{"l":104,"x":101,"y":291},{"l":104,"x":130,"y":280},{"l":104,"x":484,"y":149},{"l":104,"x":513,"y":133},{"l":104,"x":527,"y":122},
{"l":105,"x":69,"y":307},{"l":105,"x":83,"y":307},{"l":105,"x":110,"y":298},{"l":105,"x":142,"y":288},{"l":105,"x":496,"y":156},{"l":105,"x":525,"y":140},{"l":105,"x":537,"y":128},
{"l":106,"x":80,"y":314},{"l":106,"x":95,"y":315},{"l":106,"x":124,"y":297},{"l":106,"x":154,"y":296},{"l":106,"x":508,"y":164},{"l":106,"x":537,"y":148},{"l":106,"x":547,"y":135},
{"l":107,"x":92,"y":325},{"l":107,"x":107,"y":322},{"l":107,"x":136,"y":304},{"l":107,"x":166,"y":304},{"l":107,"x":519,"y":171},{"l":107,"x":549,"y":155},{"l":107,"x":558,"y":143},
{"l":108,"x":104,"y":336},{"l":108,"x":119,"y":330},{"l":108,"x":148,"y":312},{"l":108,"x":178,"y":311},{"l":108,"x":531,"y":179},{"l":108,"x":561,"y":163},{"l":108,"x":568,"y":150},
{"l":109,"x":115,"y":338},{"l":109,"x":130,"y":338},{"l":109,"x":160,"y":320},{"l":109,"x":189,"y":319},{"l":109,"x":543,"y":186},{"l":109,"x":573,"y":170},{"l":109,"x":580,"y":151},
{"l":110,"x":127,"y":346},{"l":110,"x":142,"y":346},{"l":110,"x":171,"y":328},{"l":110,"x":201,"y":327},{"l":110,"x":555,"y":194},{"l":110,"x":585,"y":178},{"l":110,"x":593,"y":160},
{"l":111,"x":139,"y":354},{"l":111,"x":154,"y":353},{"l":111,"x":183,"y":335},{"l":111,"x":213,"y":335},{"l":111,"x":567,"y":201},{"l":111,"x":597,"y":185},{"l":111,"x":603,"y":168},
{"l":112,"x":151,"y":362},{"l":112,"x":165,"y":361},{"l":112,"x":195,"y":343},{"l":112,"x":225,"y":342},{"l":112,"x":579,"y":209},{"l":112,"x":607,"y":193},{"l":112,"x":617,"y":177},
{"l":113,"x":162,"y":371},{"l":113,"x":177,"y":369},{"l":113,"x":207,"y":351},{"l":113,"x":236,"y":350},{"l":113,"x":591,"y":216},{"l":113,"x":621,"y":200},{"l":113,"x":632,"y":185},
{"l":114,"x":174,"y":379},{"l":114,"x":189,"y":377},{"l":114,"x":218,"y":359},{"l":114,"x":248,"y":358},{"l":114,"x":603,"y":224},{"l":114,"x":632,"y":208},{"l":114,"x":650,"y":193},
{"l":115,"x":186,"y":387},{"l":115,"x":201,"y":385},{"l":115,"x":230,"y":367},{"l":115,"x":260,"y":366},{"l":115,"x":615,"y":231},{"l":115,"x":644,"y":215},{"l":115,"x":663,"y":203},
{"l":116,"x":198,"y":395},{"l":116,"x":212,"y":393},{"l":116,"x":242,"y":374},{"l":116,"x":272,"y":373},{"l":116,"x":627,"y":239},{"l":116,"x":656,"y":223},{"l":116,"x":675,"y":212},
{"l":117,"x":209,"y":403},{"l":117,"x":224,"y":400},{"l":117,"x":254,"y":382},{"l":117,"x":283,"y":381},{"l":117,"x":639,"y":246},{"l":117,"x":668,"y":230},{"l":117,"x":687,"y":218},
{"l":118,"x":221,"y":411},{"l":118,"x":236,"y":408},{"l":118,"x":265,"y":390},{"l":118,"x":295,"y":389},{"l":118,"x":651,"y":254},{"l":118,"x":680,"y":238},{"l":118,"x":697,"y":222},
{"l":119,"x":233,"y":420},{"l":119,"x":248,"y":416},{"l":119,"x":277,"y":408},{"l":119,"x":307,"y":397},{"l":119,"x":662,"y":261},{"l":119,"x":692,"y":245},{"l":119,"x":712,"y":235},
{"l":120,"x":244,"y":427},{"l":120,"x":259,"y":424},{"l":120,"x":289,"y":415},{"l":120,"x":319,"y":404},{"l":120,"x":674,"y":269},{"l":120,"x":704,"y":253},{"l":120,"x":723,"y":245},
{"l":121,"x":256,"y":436},{"l":121,"x":271,"y":432},{"l":121,"x":301,"y":423},{"l":121,"x":330,"y":412},{"l":121,"x":686,"y":276},{"l":121,"x":716,"y":260},{"l":121,"x":733,"y":252},
{"l":122,"x":268,"y":443},{"l":122,"x":283,"y":439},{"l":122,"x":312,"y":431},{"l":122,"x":342,"y":420},{"l":122,"x":698,"y":284},{"l":122,"x":713,"y":273},{"l":122,"x":728,"y":268},{"l":122,"x":745,"y":252},
{"l":123,"x":280,"y":451},{"l":123,"x":295,"y":447},{"l":123,"x":324,"y":439},{"l":123,"x":354,"y":428},{"l":123,"x":710,"y":291},{"l":123,"x":740,"y":275},{"l":123,"x":757,"y":262},
{"l":124,"x":291,"y":457},{"l":124,"x":306,"y":455},{"l":124,"x":336,"y":447},{"l":124,"x":365,"y":435},{"l":124,"x":722,"y":298},{"l":124,"x":752,"y":283},{"l":124,"x":768,"y":272},
{"l":125,"x":303,"y":465},{"l":125,"x":318,"y":463},{"l":125,"x":348,"y":454},{"l":125,"x":377,"y":443},{"l":125,"x":734,"y":306},{"l":125,"x":764,"y":290},{"l":125,"x":780,"y":280},
{"l":126,"x":315,"y":471},{"l":126,"x":330,"y":471},{"l":126,"x":359,"y":462},{"l":126,"x":389,"y":451},{"l":126,"x":746,"y":313},{"l":126,"x":776,"y":298},{"l":126,"x":793,"y":287},
{"l":127,"x":326,"y":477},{"l":127,"x":341,"y":479},{"l":127,"x":371,"y":470},{"l":127,"x":401,"y":459},{"l":127,"x":758,"y":321},{"l":127,"x":788,"y":305},{"l":127,"x":803,"y":294},
{"l":128,"x":338,"y":484},{"l":128,"x":353,"y":489},{"l":128,"x":383,"y":479},{"l":128,"x":457,"y":450},{"l":128,"x":636,"y":382},{"l":128,"x":787,"y":321},{"l":128,"x":800,"y":319},{"l":128,"x":815,"y":300},
{"l":129,"x":350,"y":493},{"l":129,"x":365,"y":497},{"l":129,"x":379,"y":480},{"l":129,"x":392,"y":469},{"l":129,"x":409,"y":480},{"l":129,"x":424,"y":474},{"l":129,"x":648,"y":389},{"l":129,"x":782,"y":338},{"l":129,"x":811,"y":327},{"l":129,"x":827,"y":310},
{"l":130,"x":362,"y":503},{"l":130,"x":376,"y":504},{"l":130,"x":391,"y":495},{"l":130,"x":406,"y":489},{"l":130,"x":421,"y":482},{"l":130,"x":436,"y":473},{"l":130,"x":451,"y":458},{"l":130,"x":466,"y":448},{"l":130,"x":482,"y":437},{"l":130,"x":496,"y":438},{"l":130,"x":510,"y":440},{"l":130,"x":525,"y":435},{"l":130,"x":540,"y":429},{"l":130,"x":555,"y":424},{"l":130,"x":570,"y":418},{"l":130,"x":585,"y":413},{"l":130,"x":600,"y":405},{"l":130,"x":615,"y":398},{"l":130,"x":630,"y":391},{"l":130,"x":645,"y":385},{"l":130,"x":660,"y":377},{"l":130,"x":675,"y":369},{"l":130,"x":690,"y":364},{"l":130,"x":705,"y":358},{"l":130,"x":720,"y":354},{"l":130,"x":737,"y":350},{"l":130,"x":752,"y":353},{"l":130,"x":768,"y":356},{"l":130,"x":783,"y":354},{"l":130,"x":797,"y":353},{"l":130,"x":812,"y":350},{"l":130,"x":826,"y":348},{"l":130,"x":838,"y":323},
{"l":131,"x":373,"y":510},{"l":131,"x":388,"y":510},{"l":131,"x":403,"y":503},{"l":131,"x":418,"y":493},{"l":131,"x":448,"y":482},{"l":131,"x":462,"y":474},{"l":131,"x":492,"y":455},{"l":131,"x":522,"y":450},{"l":131,"x":567,"y":435},{"l":131,"x":671,"y":394},{"l":131,"x":746,"y":363},{"l":131,"x":792,"y":354},{"l":131,"x":837,"y":347},{"l":131,"x":850,"y":324},
{"l":132,"x":385,"y":518},{"l":132,"x":400,"y":513},{"l":132,"x":415,"y":501},{"l":132,"x":430,"y":492},{"l":132,"x":445,"y":490},{"l":132,"x":460,"y":484},{"l":132,"x":474,"y":477},{"l":132,"x":489,"y":470},{"l":132,"x":504,"y":467},{"l":132,"x":519,"y":460},{"l":132,"x":534,"y":455},{"l":132,"x":549,"y":452},{"l":132,"x":564,"y":448},{"l":132,"x":579,"y":439},{"l":132,"x":594,"y":434},{"l":132,"x":609,"y":428},{"l":132,"x":624,"y":422},{"l":132,"x":638,"y":416},{"l":132,"x":653,"y":410},{"l":132,"x":668,"y":404},{"l":132,"x":683,"y":398},{"l":132,"x":698,"y":391},{"l":132,"x":713,"y":385},{"l":132,"x":728,"y":379},{"l":132,"x":743,"y":373},{"l":132,"x":758,"y":367},{"l":132,"x":773,"y":361},{"l":132,"x":788,"y":357},{"l":132,"x":802,"y":353},{"l":132,"x":817,"y":349},{"l":132,"x":832,"y":348},{"l":132,"x":847,"y":345},{"l":132,"x":862,"y":337}
]},
"hconcat":[
{"width":880,"height":441,
"layer":[
{"data":{"name":"fills"},"mark":{"type":"line","strokeWidth":0,"strokeOpacity":0},"encoding":{"x":{"field":"x","type":"quantitative","axis":null,"scale":{"domain":[0,880],"nice":false,"zero":false}},"y":{"field":"y","type":"quantitative","axis":null,"scale":{"domain":[526,85],"nice":false,"zero":false}},"order":{"value":null},"detail":{"field":"p"},"fill":{"field":"m","type":"quantitative","legend":null,"scale":{"domain":[0,1,1.5,2,2.45,3,3.5,4],"range":["#ffffff","#ffff00","#ffaa00","#ff6400","#ff0000","#b80000","#5c0000","#000000"],"interpolate":"rgb"}}}},
{"data":{"name":"mesh"},"mark":{"type":"line","stroke":"#333333","strokeWidth":0.8,"strokeJoin":"round"},"encoding":{"x":{"field":"x","type":"quantitative","axis":null},"y":{"field":"y","type":"quantitative","axis":null},"order":{"value":null},"detail":{"field":"l"}}},
{"data":{"name":"peakfills"},"mark":{"type":"line","strokeWidth":0,"strokeOpacity":0},"encoding":{"x":{"field":"x","type":"quantitative","axis":null},"y":{"field":"y","type":"quantitative","axis":null},"order":{"value":null},"detail":{"field":"p"},"fill":{"field":"m","type":"quantitative","legend":null}}},
{"data":{"name":"peaklines"},"mark":{"type":"line","stroke":"#222222","strokeWidth":0.8,"strokeJoin":"round"},"encoding":{"x":{"field":"x","type":"quantitative","axis":null},"y":{"field":"y","type":"quantitative","axis":null},"order":{"value":null},"detail":{"field":"l"}}}
]},
{"width":54.5,"height":441,
"title":{"text":"Module (N)","anchor":"start","dx":-22,"offset":8,"baseline":"alphabetic","font":"Liberation Sans","fontSize":27.5,"fontWeight":"bold","color":"#000000"},
"layer":[
{"data":{"name":"bar"},"mark":{"type":"rect","strokeWidth":0.6},"encoding":{"x":{"datum":0,"type":"quantitative","axis":null,"scale":{"domain":[0,1]}},"x2":{"datum":1},"y":{"field":"a","type":"quantitative","scale":{"domain":[0,4.03],"nice":false,"zero":false},"axis":{"orient":"left","values":[0,0.5,1,1.5,2,2.5,3,3.5,4],"format":"~g","title":null,"domain":false,"grid":false,"tickSize":-4,"tickColor":"#444444","zindex":1,"labelFont":"Liberation Sans","labelFontSize":24.5,"labelColor":"#111111","labelPadding":10}},"y2":{"field":"b"},"fill":{"field":"a","type":"quantitative","legend":null,"scale":{"domain":[0,1,1.5,2,2.45,3,3.5,4],"range":["#ffffff","#ffff00","#ffaa00","#ff6400","#ff0000","#b80000","#5c0000","#000000"],"interpolate":"rgb"}},"stroke":{"field":"a","type":"quantitative","legend":null,"scale":{"domain":[0,1,1.5,2,2.45,3,3.5,4],"range":["#ffffff","#ffff00","#ffaa00","#ff6400","#ff0000","#b80000","#5c0000","#000000"],"interpolate":"rgb"}}}},
{"data":{"name":"frame"},"mark":{"type":"rect","fill":null,"stroke":"#555555","strokeWidth":1},"encoding":{"x":{"datum":0,"type":"quantitative","axis":null,"scale":{"domain":[0,1]}},"x2":{"datum":1},"y":{"field":"a","type":"quantitative","scale":{"domain":[0,4.03],"nice":false,"zero":false},"axis":{"orient":"right","values":[0,0.5,1,1.5,2,2.5,3,3.5],"labels":false,"title":null,"domain":false,"grid":false,"tickSize":-4,"tickColor":"#444444","zindex":1}},"y2":{"field":"b"}}}
],"resolve":{"axis":{"y":"independent"}}}
]}
